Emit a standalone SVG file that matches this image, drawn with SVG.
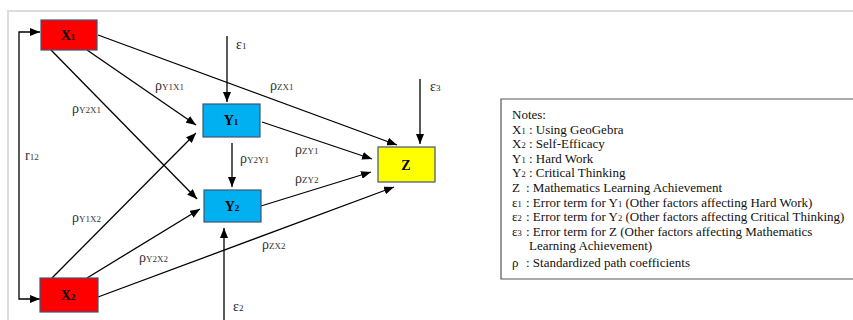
<svg xmlns="http://www.w3.org/2000/svg" width="853" height="320" viewBox="0 0 853 320">
<defs>
<marker id="ah" viewBox="0 0 10 8" refX="10" refY="4" markerWidth="10" markerHeight="8" markerUnits="userSpaceOnUse" orient="auto-start-reverse">
<path d="M0,0 L10,4 L0,8 z" fill="#000"/>
</marker>
<style>
.frame{fill:none;stroke:#dcdcdc;stroke-width:2}
.node{stroke:#3f5577;stroke-width:1.2}
.red{fill:#ff0000}
.blue{fill:#00b0f0}
.yel{fill:#ffff00}
.nl{font-family:"Liberation Serif",serif;font-weight:bold;font-size:14px;fill:#000;text-anchor:middle}
.edge{fill:none;stroke:#000;stroke-width:1.3;marker-end:url(#ah)}
.lab{font-family:"Liberation Serif",serif;font-size:14px;fill:#333}
.sub{font-size:9px}
.eps{font-family:"Liberation Serif",serif;font-size:14px;fill:#222}
.notes{font-family:"Liberation Serif",serif;font-size:13px;fill:#111}
.nsub{font-size:8.5px}
</style>
</defs>
<rect width="853" height="320" fill="#fff"/>
<path class="frame" d="M8,320 V11 H853"/>

<g id="connectors">
<path class="edge" style="marker-start:url(#ah)" d="M40,32 H19 V299 H40"/>
<line class="edge" x1="87" y1="50" x2="196" y2="125"/>
<line class="edge" x1="51" y1="50" x2="197" y2="199"/>
<line class="edge" x1="98" y1="35" x2="397" y2="145"/>
<line class="edge" x1="52" y1="278" x2="196" y2="133"/>
<line class="edge" x1="87" y1="278" x2="200" y2="209"/>
<line class="edge" x1="98" y1="297" x2="394" y2="187"/>
<line class="edge" x1="262" y1="122" x2="372" y2="159"/>
<line class="edge" x1="261" y1="206" x2="371" y2="172"/>
<line class="edge" x1="232" y1="143" x2="232" y2="187"/>
<line class="edge" x1="227" y1="36" x2="227" y2="102"/>
<line class="edge" x1="420" y1="79" x2="420" y2="144"/>
<line class="edge" x1="224" y1="320" x2="224" y2="228"/>
</g>

<g id="edge-labels">
<text class="lab" x="25" y="160">r<tspan class="sub">12</tspan></text>
<text class="lab" x="155" y="90">ρ<tspan class="sub">Y1X1</tspan></text>
<text class="lab" x="270" y="90">ρ<tspan class="sub">ZX1</tspan></text>
<text class="lab" x="72" y="113">ρ<tspan class="sub">Y2X1</tspan></text>
<text class="lab" x="240" y="163">ρ<tspan class="sub">Y2Y1</tspan></text>
<text class="lab" x="295" y="154">ρ<tspan class="sub">ZY1</tspan></text>
<text class="lab" x="295" y="183">ρ<tspan class="sub">ZY2</tspan></text>
<text class="lab" x="262" y="249">ρ<tspan class="sub">ZX2</tspan></text>
<text class="lab" x="72" y="222">ρ<tspan class="sub">Y1X2</tspan></text>
<text class="lab" x="139" y="262">ρ<tspan class="sub">Y2X2</tspan></text>
<text class="eps" x="236" y="49">ε<tspan class="sub">1</tspan></text>
<text class="eps" x="430" y="91">ε<tspan class="sub">3</tspan></text>
<text class="eps" x="233" y="311">ε<tspan class="sub">2</tspan></text>
</g>

<g id="X1">
<rect class="node red" x="41" y="20" width="56" height="30"/>
<text class="nl" x="68" y="40">X<tspan class="sub">1</tspan></text>
</g>
<g id="X2">
<rect class="node red" x="40" y="278" width="58" height="34"/>
<text class="nl" x="68" y="300">X<tspan class="sub">2</tspan></text>
</g>
<g id="Y1">
<rect class="node blue" x="203" y="104" width="57" height="33"/>
<text class="nl" x="231" y="125">Y<tspan class="sub">1</tspan></text>
</g>
<g id="Y2">
<rect class="node blue" x="204" y="190" width="57" height="32"/>
<text class="nl" x="232" y="211">Y<tspan class="sub">2</tspan></text>
</g>
<g id="Z">
<rect class="node yel" x="378" y="147" width="57" height="35"/>
<text class="nl" x="406" y="170">Z</text>
</g>

<g id="notes">
<path d="M860,99 H501 V279 H860" fill="none" stroke="#555" stroke-width="1.2"/>
<text class="notes" x="512" y="119">Notes:</text>
<text class="notes" x="512" y="133.6">X<tspan class="nsub">1</tspan> : Using GeoGebra</text>
<text class="notes" x="512" y="148.2">X<tspan class="nsub">2</tspan> : Self-Efficacy</text>
<text class="notes" x="512" y="162.8">Y<tspan class="nsub">1</tspan> : Hard Work</text>
<text class="notes" x="512" y="177.4">Y<tspan class="nsub">2</tspan> : Critical Thinking</text>
<text class="notes" x="512" y="192">Z<tspan x="526">: Mathematics Learning Achievement</tspan></text>
<text class="notes" x="512" y="206.6">ε<tspan class="nsub">1</tspan><tspan x="526">: Error term for Y</tspan><tspan class="nsub">1</tspan> (Other factors affecting Hard Work)</text>
<text class="notes" x="512" y="221.2">ε<tspan class="nsub">2</tspan><tspan x="526">: Error term for Y</tspan><tspan class="nsub">2</tspan> (Other factors affecting Critical Thinking)</text>
<text class="notes" x="512" y="235.8">ε<tspan class="nsub">3</tspan><tspan x="526">: Error term for Z (Other factors affecting Mathematics</tspan></text>
<text class="notes" x="529" y="250.4">Learning Achievement)</text>
<text class="notes" x="512" y="267">ρ<tspan x="526">: Standardized path coefficients</tspan></text>
</g>
</svg>
